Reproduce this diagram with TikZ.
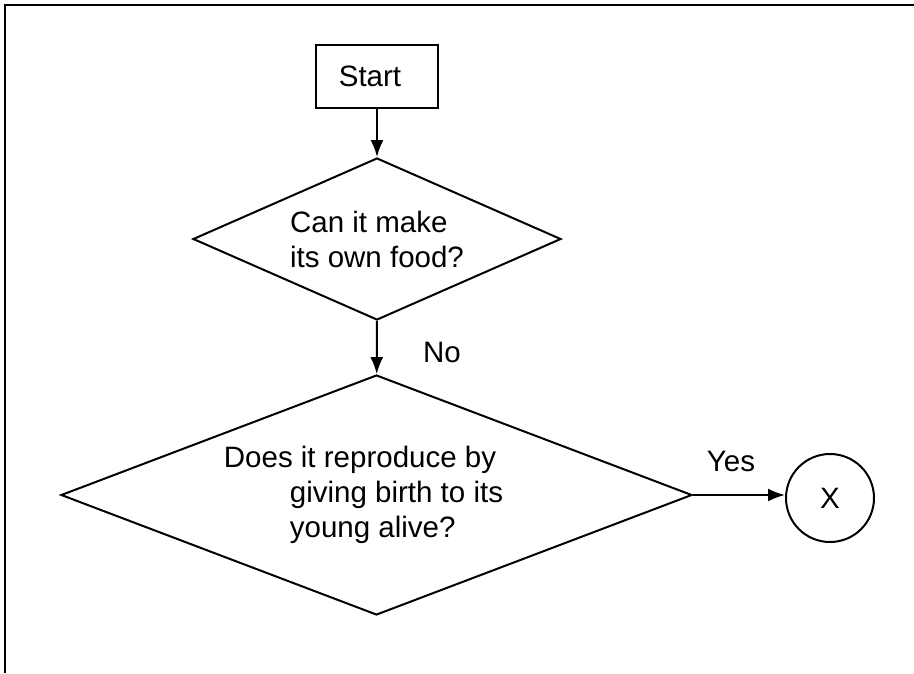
\documentclass[tikz,border=0pt]{standalone}
\usepackage{fontspec}
\setmainfont{Liberation Sans}
\usetikzlibrary{shapes.geometric,arrows.meta}

\tikzset{
  every node/.style={font=\fontsize{29.5}{35}\selectfont},
  flowline/.style={line width=2pt,-{Latex[length=17pt,width=13pt]}},
  startbox/.style={draw,line width=2pt,minimum width=122pt,minimum height=63pt,inner sep=0pt},
  choice/.style={draw,line width=2pt,diamond,inner sep=0pt,align=left},
  endcircle/.style={draw,line width=2pt,circle,minimum size=88pt,inner sep=0pt}
}

\begin{document}
\begin{tikzpicture}[x=1pt,y=-1pt]
  \useasboundingbox (0,0) rectangle (914,673);
  \draw[line width=2pt] (5,673) -- (5,5) -- (914,5);

  \node[startbox] (start) at (377,76.5) {Start\hspace*{14pt}};
  \node[choice,minimum width=368pt,minimum height=162pt,aspect=2.27]
    (food) at (377,239) {Can it make\\its own food?};
  \node[choice,minimum width=631pt,minimum height=240pt,aspect=2.6]
    (birth) at (376.5,495)
    {Does it reproduce by\\\hspace*{66pt}giving birth to its\hspace*{26pt}\mbox{}\\\hspace*{66pt}young alive?};
  \node[endcircle] (x) at (830,498) {X};

  \draw[flowline] (start) -- (food);
  \draw[flowline] (food) -- (birth);
  \draw[flowline] (birth.east) -- (birth.east -| x.west);

  \node (no) at (442,352) {No};
  \node (yes) at (731,461) {Yes};
\end{tikzpicture}
\end{document}
